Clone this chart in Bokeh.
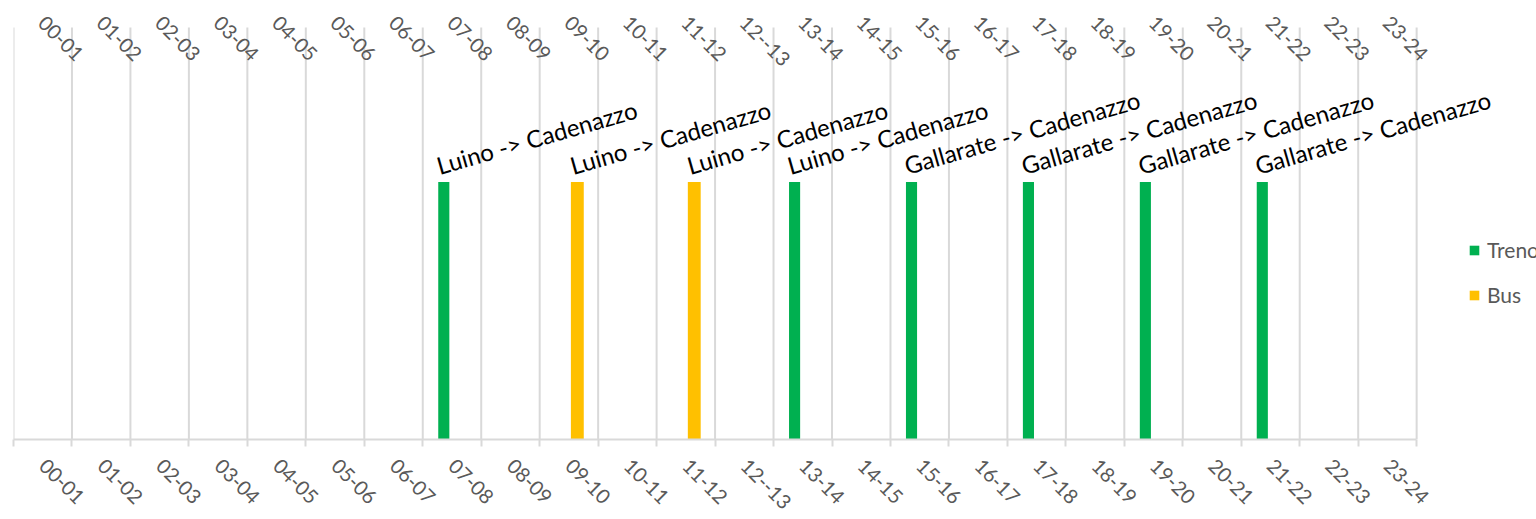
import math
from bokeh.plotting import figure
from bokeh.models import (ColumnDataSource, FixedTicker, Range1d, LabelSet,
                          Legend, LegendItem)
from bokeh.embed import file_html
from bokeh.resources import INLINE
from bokeh.core.properties import value

# ---------------- data ----------------
slots = ["00-01", "01-02", "02-03", "03-04", "04-05", "05-06", "06-07", "07-08",
         "08-09", "09-10", "10-11", "11-12", "12--13", "13-14", "14-15", "15-16",
         "16-17", "17-18", "18-19", "19-20", "20-21", "21-22", "22-23", "23-24"]
treno = [0, 0, 0, 0, 0, 0, 0, 1, 0, 0, 0, 0, 0, 1, 0, 1, 0, 1, 0, 1, 0, 1, 0, 0]
bus = [0, 0, 0, 0, 0, 0, 0, 0, 0, 1, 0, 1, 0, 0, 0, 0, 0, 0, 0, 0, 0, 0, 0, 0]
treno_routes = ["", "", "", "", "", "", "", "Luino -> Cadenazzo",
                "", "", "", "", "", "Luino -> Cadenazzo", "", "Gallarate -> Cadenazzo",
                "", "Gallarate -> Cadenazzo", "", "Gallarate -> Cadenazzo", "",
                "Gallarate -> Cadenazzo", "", ""]
bus_routes = ["", "", "", "", "", "", "", "", "", "Luino -> Cadenazzo", "",
              "Luino -> Cadenazzo", "", "", "", "", "", "", "", "", "", "", "", ""]
series_names = ["Treno", "Bus"]
series_colors = ["#00B050", "#FFC000"]
Y_MAX = 1.6

# ---------------- layout / styling constants ----------------
FONT = "Lato"
GRID = "#D9D9D9"
AXIS_TEXT = "#595959"
TRENO_SHIFT, BUS_SHIFT = -0.14, 0.144
TRENO_W, BUS_W = 0.19, 0.22
X_END = 26.05      # extra room on the right for legend / overflowing labels
Y_END = 1.705      # extra room above the plot area for the top labels

n = len(slots)
centers = [i + 0.5 for i in range(n)]
bounds = list(range(n + 1))


def series_source(vals, routes, shift):
    xs, tops, labels = [], [], []
    for c, v, r in zip(centers, vals, routes):
        if v:
            xs.append(c + shift)
            tops.append(v)
            labels.append(r)
    return ColumnDataSource(dict(x=xs, top=tops, label=labels))


src_t = series_source(treno, treno_routes, TRENO_SHIFT)
src_b = series_source(bus, bus_routes, BUS_SHIFT)

p = figure(width=1536, height=519, output_backend="svg", toolbar_location=None,
           x_range=Range1d(0, X_END), y_range=Range1d(0, Y_END),
           y_axis_location=None,
           min_border_left=13, min_border_right=0,
           min_border_top=0, min_border_bottom=80)
p.outline_line_color = None
p.background_fill_color = "white"
p.border_fill_color = "white"
p.xgrid.visible = False
p.ygrid.visible = False

# vertical gridlines at category boundaries, only over the plot area
grid_src = ColumnDataSource(dict(x=bounds, y0=[0] * len(bounds), y1=[Y_MAX] * len(bounds)))
p.segment(x0="x", y0="y0", x1="x", y1="y1", source=grid_src,
          line_color=GRID, line_width=2)

# bottom axis
ax = p.xaxis[0]
ax.bounds = (0, n)
ax.ticker = FixedTicker(ticks=centers, minor_ticks=bounds)
ax.major_label_overrides = {c: s for c, s in zip(centers, slots)}
ax.major_label_orientation = -math.pi / 4
ax.major_tick_line_color = None
ax.major_tick_out = 0
ax.major_tick_in = 0
ax.minor_tick_out = 7
ax.minor_tick_in = 0
ax.minor_tick_line_color = GRID
ax.minor_tick_line_width = 2
ax.axis_line_color = GRID
ax.axis_line_width = 2
ax.major_label_standoff = 16
ax.major_label_text_font = FONT
ax.major_label_text_font_size = "20px"
ax.major_label_text_color = AXIS_TEXT

# top category labels (Excel secondary axis labels)
top_src = ColumnDataSource(dict(x=centers, y=[Y_MAX] * n, text=slots))
p.add_layout(LabelSet(source=top_src, x="x", y="y", text="text",
                      angle=-math.pi / 4, text_align="left", text_baseline="middle",
                      y_offset=8, x_offset=-1, text_font=value(FONT),
                      text_font_size="20px", text_color=AXIS_TEXT))

# bars
r_t = p.vbar(x="x", top="top", bottom=0, width=TRENO_W, source=src_t,
             fill_color=series_colors[0], line_color=None)
r_b = p.vbar(x="x", top="top", bottom=0, width=BUS_W, source=src_b,
             fill_color=series_colors[1], line_color=None)

# data labels
for src in (src_t, src_b):
    p.add_layout(LabelSet(source=src, x="x", y="top", text="label",
                          angle=math.radians(16), text_align="left",
                          text_baseline="alphabetic", x_offset=-4, y_offset=7,
                          text_font=value(FONT), text_font_size="24px",
                          text_color="#000000"))

legend = Legend(items=[LegendItem(label=series_names[0], renderers=[r_t]),
                       LegendItem(label=series_names[1], renderers=[r_b])],
                location=(1455, 132), orientation="vertical",
                padding=0, margin=0, spacing=20,
                glyph_width=12, glyph_height=12, label_standoff=7,
                label_text_font=FONT, label_text_font_size="21px",
                label_text_color=AXIS_TEXT,
                border_line_color=None, background_fill_alpha=0)
p.add_layout(legend)

open("out.html", "w").write(file_html(p, INLINE))
